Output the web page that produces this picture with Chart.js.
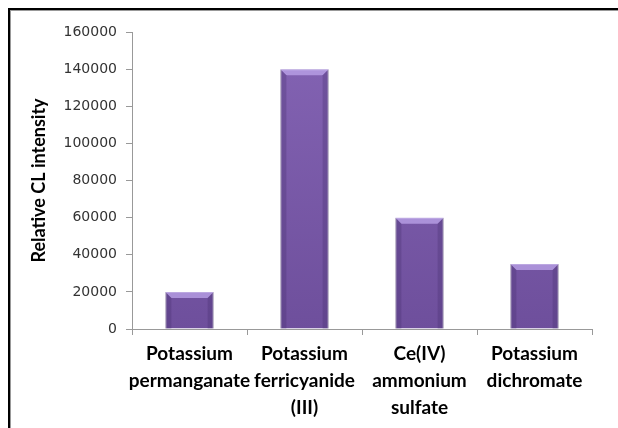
<!DOCTYPE html>
<html>
<head>
<meta charset="utf-8">
<script src="https://cdn.jsdelivr.net/npm/chart.js@4.4.1/dist/chart.umd.min.js"></script>
<style>
  html, body { margin: 0; padding: 0; background: #fff; }
</style>
</head>
<body>
<canvas id="clChart" width="618" height="428"></canvas>
<script>
const oxidants = [
  ['Potassium', 'permanganate'],
  ['Potassium', 'ferricyanide', '(III)'],
  ['Ce(IV)', 'ammonium', 'sulfate'],
  ['Potassium', 'dichromate']
];
const intensity = [20000, 140000, 60000, 35000];
const yTicks = [0, 20000, 40000, 60000, 80000, 100000, 120000, 140000, 160000];

// white page with the cropped frame on the top and left edges
const frame = {
  id: 'frame',
  beforeDraw(chart) {
    const ctx = chart.ctx;
    ctx.save();
    ctx.fillStyle = '#fff';
    ctx.fillRect(0, 0, chart.width, chart.height);
    ctx.fillStyle = '#000';
    ctx.fillRect(8, 8, chart.width - 8, 2);
    ctx.fillRect(8, 8, 2, chart.height - 8);
    ctx.fillStyle = '#999';
    ctx.fillRect(10, 10, chart.width - 10, 1);
    ctx.fillRect(10, 10, 1, chart.height - 10);
    ctx.restore();
  }
};

const bevel = {
  id: 'bevel',
  afterDatasetsDraw(chart) {
    const ctx = chart.ctx;
    chart.getDatasetMeta(0).data.forEach((bar) => {
      const l = bar.x - bar.width / 2, r = bar.x + bar.width / 2, t = bar.y, b = bar.base;
      const d = 6;
      ctx.save();
      ctx.fillStyle = 'rgba(190,165,235,0.75)';
      ctx.beginPath();
      ctx.moveTo(l, t); ctx.lineTo(r, t); ctx.lineTo(r - d, t + d); ctx.lineTo(l + d, t + d);
      ctx.closePath(); ctx.fill();
      ctx.fillStyle = 'rgba(70,45,110,0.3)';
      ctx.beginPath();
      ctx.moveTo(l, t); ctx.lineTo(l + d, t + d); ctx.lineTo(l + d, b); ctx.lineTo(l, b);
      ctx.closePath(); ctx.fill();
      ctx.beginPath();
      ctx.moveTo(r, t); ctx.lineTo(r - d, t + d); ctx.lineTo(r - d, b); ctx.lineTo(r, b);
      ctx.closePath(); ctx.fill();
      ctx.restore();
    });
  }
};

new Chart(document.getElementById('clChart'), {
  type: 'bar',
  data: {
    labels: oxidants,
    datasets: [{
      data: intensity,
      backgroundColor: (c) => {
        const area = c.chart.chartArea;
        if (!area) return '#7b5ba8';
        const g = c.chart.ctx.createLinearGradient(0, area.top, 0, area.bottom);
        g.addColorStop(0, '#8464b4');
        g.addColorStop(1, '#6e4f9c');
        return g;
      },
      borderColor: '#b8b0c4',
      borderWidth: 1,
      categoryPercentage: 1,
      barPercentage: 0.42
    }]
  },
  options: {
    responsive: false,
    animation: false,
    layout: { padding: { left: 24, right: 26, top: 32, bottom: 0 } },
    plugins: { legend: { display: false }, tooltip: { enabled: false } },
    scales: {
      x: {
        grid: { offset: true, drawOnChartArea: false, tickLength: 6, color: '#999' },
        border: { color: '#999' },
        ticks: { color: '#000', font: { family: 'Lato', weight: 'bold', size: 19, lineHeight: 1.42 }, maxRotation: 0, autoSkip: false, padding: 5 },
        afterFit: (s) => { s.height = 99; }
      },
      y: {
        min: 0,
        max: 160000,
        afterBuildTicks: (s) => { s.ticks = yTicks.map((v) => ({ value: v })); },
        grid: { drawOnChartArea: false, tickLength: 6, color: '#999' },
        border: { color: '#999' },
        ticks: { color: '#333', font: { family: 'DejaVu Sans', size: 14 }, padding: 9, callback: (v) => String(v) },
        title: { display: true, text: 'Relative CL intensity', color: '#000', font: { family: 'Lato', weight: 'bold', size: 18 }, padding: 4 },
        afterFit: (s) => { s.width = 108; }
      }
    }
  },
  plugins: [frame, bevel]
});
</script>
</body>
</html>
